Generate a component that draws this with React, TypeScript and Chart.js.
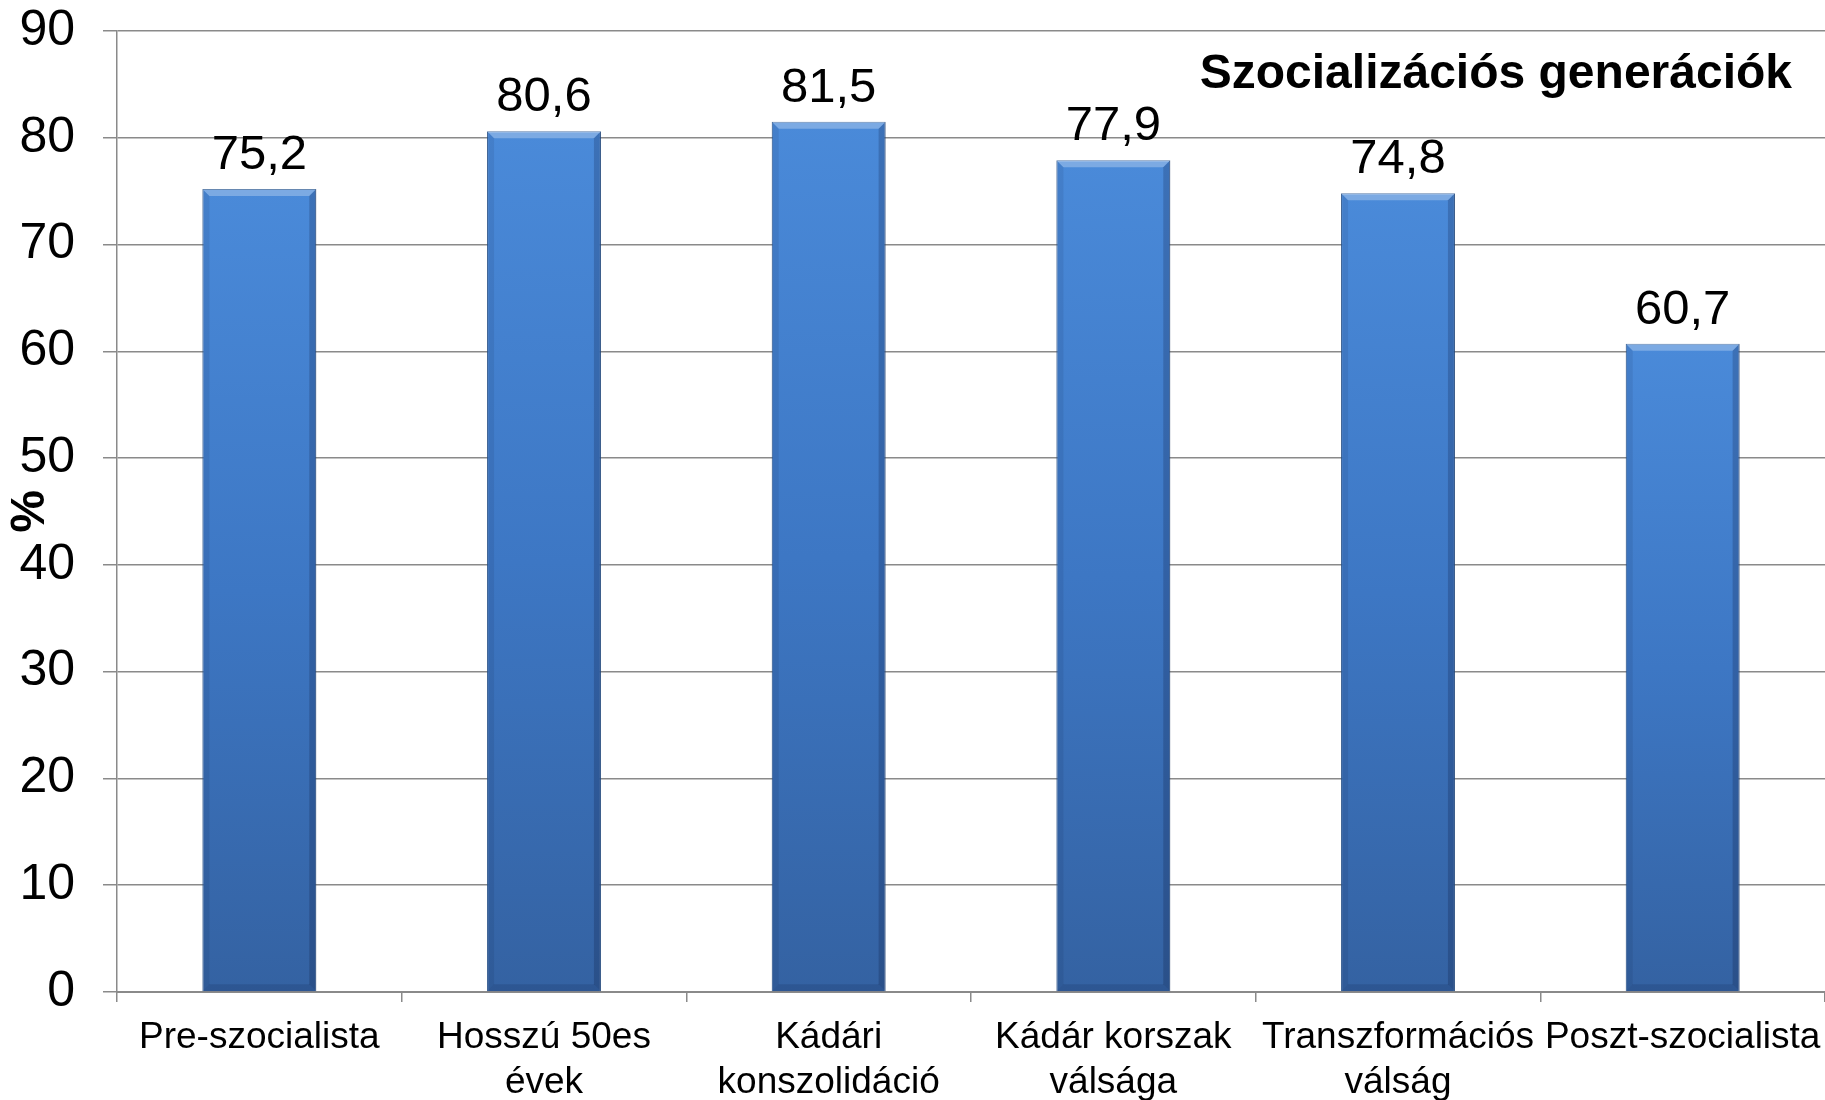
import React, { useEffect, useRef } from "react";
import { Chart, registerables } from "chart.js";

Chart.register(...registerables);

const categories: (string | string[])[] = [
  "Pre-szocialista",
  ["Hosszú 50es", "évek"],
  ["Kádári", "konszolidáció"],
  ["Kádár korszak", "válsága"],
  ["Transzformációs", "válság"],
  "Poszt-szocialista",
];
const values: number[] = [75.2, 80.6, 81.5, 77.9, 74.8, 60.7];
const yTitle = "%";
const chartTitle = "Szocializációs generációk";
const yMin = 0;
const yMax = 90;
const yStep = 10;

const FONT = "'Liberation Sans', Arial, Helvetica, sans-serif";

const fmt = (v: number) => v.toFixed(1).replace(".", ",");

const decorPlugin = {
  id: "decor",
  afterDatasetsDraw(chart: any) {
    const ctx = chart.ctx;
    const meta = chart.getDatasetMeta(0);
    meta.data.forEach((bar: any, i: number) => {
      const w = bar.width;
      const left = bar.x - w / 2;
      const right = bar.x + w / 2;
      const top = bar.y;
      const base = bar.base;
      const b = 7;
      ctx.save();
      ctx.fillStyle = "rgba(255,255,255,0.28)";
      ctx.beginPath();
      ctx.moveTo(left, top);
      ctx.lineTo(right, top);
      ctx.lineTo(right - b, top + b);
      ctx.lineTo(left + b, top + b);
      ctx.closePath();
      ctx.fill();
      ctx.fillStyle = "rgba(0,0,30,0.18)";
      ctx.beginPath();
      ctx.moveTo(right, top);
      ctx.lineTo(right, base);
      ctx.lineTo(right - b, base - b);
      ctx.lineTo(right - b, top + b);
      ctx.closePath();
      ctx.fill();
      ctx.fillStyle = "rgba(0,0,30,0.08)";
      ctx.beginPath();
      ctx.moveTo(left, top);
      ctx.lineTo(left + b, top + b);
      ctx.lineTo(left + b, base - b);
      ctx.lineTo(left, base);
      ctx.closePath();
      ctx.fill();
      ctx.fillStyle = "rgba(0,0,30,0.12)";
      ctx.beginPath();
      ctx.moveTo(left, base);
      ctx.lineTo(right, base);
      ctx.lineTo(right - b, base - b);
      ctx.lineTo(left + b, base - b);
      ctx.closePath();
      ctx.fill();
      ctx.fillStyle = "#000";
      ctx.font = `49px ${FONT}`;
      ctx.textAlign = "center";
      ctx.textBaseline = "alphabetic";
      ctx.fillText(fmt(values[i]), bar.x, top - 20);
      ctx.restore();
    });
    ctx.save();
    ctx.fillStyle = "#000";
    ctx.font = `bold 48px ${FONT}`;
    ctx.textAlign = "right";
    ctx.textBaseline = "alphabetic";
    ctx.fillText(chartTitle, 1792, 88);
    ctx.restore();
  },
};

export default function App() {
  const ref = useRef<HTMLCanvasElement | null>(null);
  useEffect(() => {
    if (!ref.current) return;
    const chart = new Chart(ref.current, {
      type: "bar",
      data: {
        labels: categories as any,
        datasets: [
          {
            data: values,
            barPercentage: 0.4,
            categoryPercentage: 1.0,
            borderWidth: 1,
            borderColor: "#2d5a94",
            backgroundColor: (c: any) => {
              const chart = c.chart;
              if (c.type !== "data" || !chart.scales || !chart.scales.y) return "#3d78c5";
              const ys = chart.scales.y;
              const yt = ys.getPixelForValue(c.raw);
              const yb = ys.getPixelForValue(0);
              if (!isFinite(yt) || !isFinite(yb) || yt === yb) return "#3d78c5";
              const g = chart.ctx.createLinearGradient(0, yt, 0, yb);
              g.addColorStop(0, "#4a8ad9");
              g.addColorStop(0.5, "#3d77c4");
              g.addColorStop(1, "#3462a2");
              return g;
            },
          },
        ],
      },
      options: {
        responsive: false,
        animation: false,
        layout: { padding: { top: 31, right: 0, bottom: 0, left: 0 } },
        plugins: {
          legend: { display: false },
          tooltip: { enabled: false },
        },
        scales: {
          x: {
            offset: true,
            grid: {
              offset: true,
              drawOnChartArea: false,
              drawTicks: true,
              tickLength: 10,
              color: "#8a8a8a",
              lineWidth: 1.5,
            },
            border: { display: true, color: "#8a8a8a", width: 2 },
            ticks: {
              color: "#000",
              font: { family: FONT, size: 37, lineHeight: 1.2 },
              padding: 14,
              autoSkip: false,
              maxRotation: 0,
              minRotation: 0,
            },
            afterFit: (s: any) => {
              s.height = 108;
              s.paddingLeft = 0;
              s.paddingRight = 0;
            },
          },
          y: {
            min: yMin,
            max: yMax,
            ticks: {
              stepSize: yStep,
              color: "#000",
              font: { family: FONT, size: 50 },
              padding: 28,
            },
            grid: {
              color: "#8a8a8a",
              lineWidth: 1.5,
              drawTicks: true,
              tickLength: 14,
            },
            border: { display: true, color: "#8a8a8a", width: 1.5 },
            title: {
              display: true,
              text: yTitle,
              color: "#000",
              font: { family: FONT, size: 48, weight: "bold" },
              padding: { top: 2, bottom: 0 },
            },
            afterFit: (s: any) => {
              s.width = 117;
              s.paddingTop = 0;
              s.paddingBottom = 0;
            },
          },
        },
      },
      plugins: [decorPlugin],
    } as any);
    return () => chart.destroy();
  }, []);
  return (
    <div style={{ position: "absolute", left: 0, top: 0, width: 1825, height: 1100, background: "#fff" }}>
      <canvas ref={ref} width={1825} height={1100} style={{ display: "block" }} />
    </div>
  );
}
